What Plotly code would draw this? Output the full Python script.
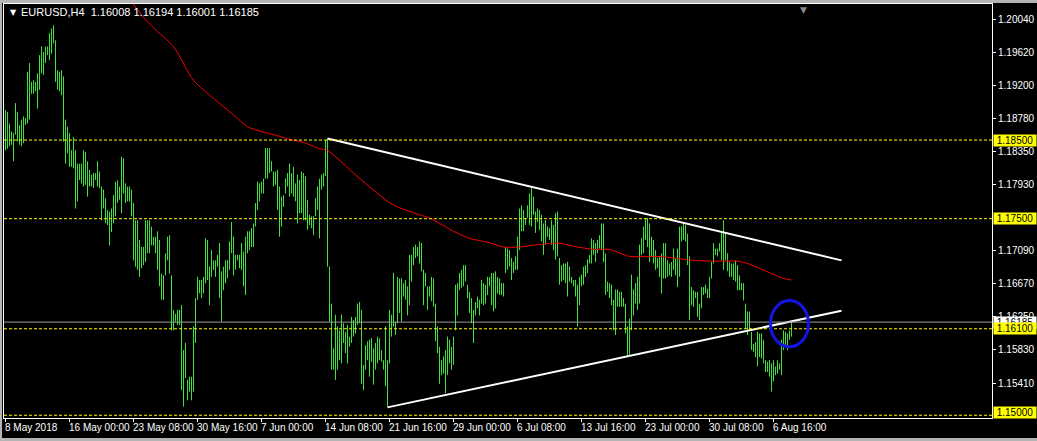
import plotly.graph_objects as go

# ---------------- data ----------------
highs = [
    1.1888, 1.1886, 1.1871, 1.1861, 1.1859, 1.1897, 1.1886, 1.1869, 1.1876, 1.1880,
    1.1878, 1.1937, 1.1948, 1.1924, 1.1926, 1.1924, 1.1935, 1.1958, 1.1969, 1.1962,
    1.1969, 1.1969, 1.1986, 1.1992, 1.1996, 1.1977, 1.1939, 1.1937, 1.1939, 1.1931,
    1.1876, 1.1867, 1.1859, 1.1837, 1.1854, 1.1837, 1.1820, 1.1820, 1.1820, 1.1837,
    1.1835, 1.1823, 1.1812, 1.1806, 1.1808, 1.1808, 1.1823, 1.1810, 1.1791, 1.1787,
    1.1776, 1.1761, 1.1759, 1.1763, 1.1780, 1.1797, 1.1799, 1.1791, 1.1829, 1.1827,
    1.1795, 1.1791, 1.1791, 1.1787, 1.1770, 1.1748, 1.1748, 1.1723, 1.1714, 1.1714,
    1.1748, 1.1748, 1.1748, 1.1740, 1.1727, 1.1727, 1.1734, 1.1723, 1.1680, 1.1678,
    1.1706, 1.1727, 1.1729, 1.1678, 1.1634, 1.1629, 1.1634, 1.1634, 1.1640, 1.1583,
    1.1592, 1.1545, 1.1549, 1.1549, 1.1613, 1.1649, 1.1676, 1.1672, 1.1672, 1.1676,
    1.1725, 1.1723, 1.1689, 1.1710, 1.1697, 1.1697, 1.1704, 1.1719, 1.1683, 1.1689,
    1.1697, 1.1697, 1.1721, 1.1746, 1.1727, 1.1704, 1.1704, 1.1704, 1.1719, 1.1708,
    1.1727, 1.1734, 1.1734, 1.1738, 1.1744, 1.1770, 1.1797, 1.1795, 1.1797, 1.1801,
    1.1840, 1.1840, 1.1840, 1.1823, 1.1810, 1.1810, 1.1812, 1.1791, 1.1778, 1.1780,
    1.1801, 1.1808, 1.1820, 1.1808, 1.1816, 1.1795, 1.1806, 1.1799, 1.1810, 1.1808,
    1.1804, 1.1774, 1.1755, 1.1753, 1.1753, 1.1776, 1.1791, 1.1801, 1.1806, 1.1808,
    1.1850, 1.1852, 1.1689, 1.1642, 1.1585, 1.1628, 1.1613, 1.1608, 1.1628, 1.1617,
    1.1606, 1.1615, 1.1600, 1.1625, 1.1621, 1.1625, 1.1642, 1.1644, 1.1634, 1.1564,
    1.1589, 1.1594, 1.1596, 1.1598, 1.1585, 1.1592, 1.1600, 1.1598, 1.1583, 1.1570,
    1.1613, 1.1570, 1.1634, 1.1628, 1.1681, 1.1619, 1.1676, 1.1674, 1.1674, 1.1668,
    1.1672, 1.1664, 1.1704, 1.1704, 1.1714, 1.1717, 1.1714, 1.1721, 1.1719, 1.1685,
    1.1681, 1.1664, 1.1664, 1.1676, 1.1674, 1.1642, 1.1613, 1.1587, 1.1570, 1.1575,
    1.1583, 1.1600, 1.1596, 1.1587, 1.1600, 1.1666, 1.1668, 1.1681, 1.1685, 1.1691,
    1.1691, 1.1666, 1.1657, 1.1649, 1.1634, 1.1644, 1.1651, 1.1647, 1.1672, 1.1668,
    1.1666, 1.1676, 1.1676, 1.1681, 1.1681, 1.1683, 1.1676, 1.1674, 1.1668, 1.1668,
    1.1714, 1.1712, 1.1710, 1.1700, 1.1695, 1.1702, 1.1727, 1.1763, 1.1767, 1.1761,
    1.1751, 1.1767, 1.1782, 1.1789, 1.1778, 1.1759, 1.1763, 1.1761, 1.1755, 1.1744,
    1.1748, 1.1740, 1.1738, 1.1748, 1.1742, 1.1757, 1.1759, 1.1700, 1.1691, 1.1693,
    1.1693, 1.1695, 1.1689, 1.1676, 1.1672, 1.1672, 1.1666, 1.1676, 1.1679, 1.1689,
    1.1691, 1.1698, 1.1704, 1.1725, 1.1723, 1.1719, 1.1723, 1.1729, 1.1744, 1.1744,
    1.1706, 1.1670, 1.1668, 1.1666, 1.1647, 1.1660, 1.1660, 1.1657, 1.1657, 1.1649,
    1.1642, 1.1613, 1.1623, 1.1679, 1.1660, 1.1668, 1.1676, 1.1717,
    1.1725, 1.1740, 1.1751, 1.1751, 1.1744, 1.1727, 1.1723, 1.1710, 1.1700, 1.1702,
    1.1706, 1.1719, 1.1719, 1.1697, 1.1693, 1.1695, 1.1712, 1.1700, 1.1712, 1.1740,
    1.1740, 1.1744, 1.1742, 1.1731, 1.1702, 1.1663, 1.1659, 1.1657, 1.1657, 1.1642,
    1.1663, 1.1663, 1.1666, 1.1661, 1.1676, 1.1695, 1.1719, 1.1712, 1.1712, 1.1719,
    1.1734, 1.1748, 1.1731, 1.1706, 1.1695, 1.1693, 1.1693, 1.1697, 1.1691, 1.1678,
    1.1668, 1.1668, 1.1642, 1.1632, 1.1632, 1.1606, 1.1591, 1.1593, 1.1606, 1.1604,
    1.1604, 1.1596, 1.1570, 1.1568, 1.1570, 1.1566, 1.1570, 1.1562, 1.1570, 1.1566,
    1.1596, 1.1608, 1.1606, 1.1604, 1.1608, 1.1619,
]
lows = [
    1.1837, 1.1839, 1.1842, 1.1844, 1.1823, 1.1857, 1.1848, 1.1844, 1.1842, 1.1846,
    1.1869, 1.1871, 1.1876, 1.1909, 1.1909, 1.1912, 1.1890, 1.1914, 1.1935, 1.1933,
    1.1948, 1.1958, 1.1952, 1.1960, 1.1973, 1.1924, 1.1914, 1.1912, 1.1907, 1.1848,
    1.1820, 1.1833, 1.1816, 1.1816, 1.1814, 1.1763, 1.1772, 1.1799, 1.1795, 1.1791,
    1.1793, 1.1778, 1.1791, 1.1791, 1.1789, 1.1799, 1.1791, 1.1789, 1.1748, 1.1763,
    1.1744, 1.1742, 1.1716, 1.1733, 1.1744, 1.1753, 1.1770, 1.1774, 1.1757, 1.1782,
    1.1770, 1.1772, 1.1772, 1.1753, 1.1697, 1.1689, 1.1685, 1.1676, 1.1687, 1.1691,
    1.1695, 1.1706, 1.1706, 1.1716, 1.1716, 1.1706, 1.1685, 1.1664, 1.1647, 1.1647,
    1.1678, 1.1697, 1.1680, 1.1608, 1.1608, 1.1619, 1.1615, 1.1615, 1.1532, 1.1511,
    1.1547, 1.1519, 1.1530, 1.1519, 1.1530, 1.1592, 1.1647, 1.1655, 1.1649, 1.1655,
    1.1668, 1.1672, 1.1640, 1.1676, 1.1685, 1.1676, 1.1689, 1.1649, 1.1619, 1.1659,
    1.1668, 1.1674, 1.1685, 1.1706, 1.1678, 1.1685, 1.1697, 1.1687, 1.1685, 1.1664,
    1.1653, 1.1706, 1.1710, 1.1714, 1.1714, 1.1740, 1.1761, 1.1772, 1.1782, 1.1782,
    1.1801, 1.1801, 1.1808, 1.1810, 1.1791, 1.1793, 1.1761, 1.1727, 1.1740, 1.1765,
    1.1782, 1.1791, 1.1778, 1.1782, 1.1778, 1.1772, 1.1744, 1.1757, 1.1757, 1.1748,
    1.1748, 1.1736, 1.1742, 1.1738, 1.1729, 1.1753, 1.1761, 1.1725, 1.1787, 1.1791,
    1.1804, 1.1689, 1.1619, 1.1558, 1.1558, 1.1545, 1.1558, 1.1570, 1.1566, 1.1592,
    1.1579, 1.1566, 1.1587, 1.1592, 1.1600, 1.1604, 1.1615, 1.1617, 1.1540, 1.1532,
    1.1558, 1.1570, 1.1549, 1.1568, 1.1539, 1.1558, 1.1566, 1.1570, 1.1568, 1.1558,
    1.1537, 1.1511, 1.1566, 1.1600, 1.1613, 1.1602, 1.1617, 1.1630, 1.1619, 1.1651,
    1.1647, 1.1627, 1.1640, 1.1670, 1.1691, 1.1700, 1.1702, 1.1693, 1.1683, 1.1640,
    1.1664, 1.1634, 1.1651, 1.1645, 1.1638, 1.1594, 1.1579, 1.1540, 1.1551, 1.1553,
    1.1528, 1.1551, 1.1566, 1.1558, 1.1564, 1.1608, 1.1627, 1.1659, 1.1662, 1.1664,
    1.1670, 1.1649, 1.1630, 1.1617, 1.1592, 1.1627, 1.1636, 1.1627, 1.1642, 1.1640,
    1.1642, 1.1653, 1.1664, 1.1640, 1.1632, 1.1636, 1.1655, 1.1653, 1.1653, 1.1651,
    1.1681, 1.1685, 1.1689, 1.1672, 1.1681, 1.1685, 1.1685, 1.1710, 1.1734, 1.1734,
    1.1742, 1.1751, 1.1742, 1.1740, 1.1755, 1.1732, 1.1746, 1.1736, 1.1721, 1.1704,
    1.1717, 1.1727, 1.1723, 1.1717, 1.1710, 1.1698, 1.1702, 1.1666, 1.1670, 1.1672,
    1.1668, 1.1651, 1.1670, 1.1668, 1.1664, 1.1651, 1.1613, 1.1640, 1.1664, 1.1666,
    1.1676, 1.1681, 1.1693, 1.1693, 1.1704, 1.1695, 1.1706, 1.1712, 1.1710, 1.1695,
    1.1653, 1.1657, 1.1649, 1.1640, 1.1608, 1.1602, 1.1638, 1.1638, 1.1638, 1.1638,
    1.1604, 1.1575, 1.1577, 1.1608, 1.1627, 1.1642, 1.1634, 1.1642,
    1.1704, 1.1706, 1.1723, 1.1714, 1.1695, 1.1702, 1.1693, 1.1685, 1.1687, 1.1676,
    1.1655, 1.1674, 1.1674, 1.1676, 1.1678, 1.1676, 1.1685, 1.1678, 1.1663, 1.1676,
    1.1721, 1.1723, 1.1721, 1.1691, 1.1621, 1.1640, 1.1638, 1.1649, 1.1625, 1.1621,
    1.1636, 1.1653, 1.1655, 1.1649, 1.1649, 1.1674, 1.1693, 1.1704, 1.1702, 1.1708,
    1.1697, 1.1685, 1.1697, 1.1683, 1.1676, 1.1676, 1.1672, 1.1670, 1.1659, 1.1659,
    1.1659, 1.1646, 1.1610, 1.1602, 1.1608, 1.1583, 1.1581, 1.1574, 1.1562, 1.1574,
    1.1572, 1.1566, 1.1555, 1.1555, 1.1549, 1.1530, 1.1543, 1.1551, 1.1553, 1.1558,
    1.1551, 1.1583, 1.1589, 1.1583, 1.1596, 1.1600,
]

# moving average (read at selected bars)
ma_idx = [63, 70, 76, 84, 94, 104, 114, 121, 129, 134, 142, 149, 157, 161, 174,
          191, 196, 207, 212, 224, 232, 241, 249, 257, 266, 276, 286, 294, 302,
          312, 327, 334, 344, 356, 366, 371, 377, 384, 389, 393]
ma_val = [1.2026, 1.2003, 1.1988, 1.1969, 1.1926, 1.1903, 1.1882, 1.1867, 1.1860,
          1.1857, 1.1851, 1.1847, 1.1839, 1.1837, 1.1808, 1.1772, 1.1765, 1.1755,
          1.1751, 1.1734, 1.1725, 1.1720, 1.1714, 1.1714, 1.1717, 1.1719, 1.1714,
          1.1711, 1.1711, 1.1702, 1.1702, 1.1700, 1.1697, 1.1696, 1.1696, 1.1693,
          1.1687, 1.1679, 1.1674, 1.1672]

time_tick_idx = [0, 32, 64, 96, 128, 160, 192, 224, 256, 288, 320, 352, 384]
time_tick_lbl = ["8 May 2018", "16 May 00:00", "23 May 08:00", "30 May 16:00",
                 "7 Jun 00:00", "14 Jun 08:00", "21 Jun 16:00", "29 Jun 00:00",
                 "6 Jul 08:00", "13 Jul 16:00", "23 Jul 00:00", "30 Jul 08:00",
                 "6 Aug 16:00"]
price_ticks = [1.2004, 1.1962, 1.1920, 1.1878, 1.1835, 1.1793, 1.1709, 1.1667,
               1.1625, 1.1583, 1.1541]

levels = [1.1850, 1.1750, 1.1610, 1.1500]
last_price = 1.16185
upper_idx = [161, 418]
upper_val = [1.1852, 1.1697]
lower_idx = [191, 418]
lower_val = [1.1510, 1.1633]
circle_idx = [382.5, 401.5]
circle_val = [1.1587, 1.1646]
header_text = "EURUSD,H4  1.16008 1.16194 1.16001 1.16185"

# ---------------- figure ----------------
FONT = "Liberation Sans, Arial, sans-serif"
BAR_COLOR = "#3be33b"

bx, by = [], []
for i, (h, l) in enumerate(zip(highs, lows)):
    bx += [i, i, None]
    by += [l, h, None]

fig = go.Figure()
fig.add_trace(go.Scatter(x=bx, y=by, mode="lines",
                         line=dict(color=BAR_COLOR, width=1),
                         hoverinfo="skip", showlegend=False))
fig.add_trace(go.Scatter(x=ma_idx, y=ma_val, mode="lines",
                         line=dict(color="#ff0000", width=1, shape="spline", smoothing=0.6),
                         hoverinfo="skip", showlegend=False))

# horizontal levels
for lv in levels:
    fig.add_shape(type="line", xref="paper", x0=0, x1=1, yref="y", y0=lv, y1=lv,
                  line=dict(color="#ffff00", width=1, dash="3px,2px"))
fig.add_shape(type="line", xref="paper", x0=0, x1=1, yref="y",
              y0=last_price, y1=last_price, line=dict(color="#9a9a9a", width=1))

fig.add_trace(go.Scatter(x=upper_idx, y=upper_val, mode="lines",
                         line=dict(color="#ffffff", width=2),
                         hoverinfo="skip", showlegend=False))
fig.add_trace(go.Scatter(x=lower_idx, y=lower_val, mode="lines",
                         line=dict(color="#ffffff", width=2),
                         hoverinfo="skip", showlegend=False))

fig.add_shape(type="circle", xref="x", yref="y",
              x0=circle_idx[0], x1=circle_idx[1], y0=circle_val[0], y1=circle_val[1],
              line=dict(color="#1414e6", width=3))

# window frame (grey bands: top, left, bottom)
for (x0, x1, y0, y1) in [(-0.01, 1.06, 1.0025, 1.02), (-0.01, -0.002, -0.07, 1.02),
                         (-0.01, 1.06, -0.07, -0.0485)]:
    fig.add_shape(type="rect", xref="paper", yref="paper", x0=x0, x1=x1, y0=y0, y1=y1,
                  line=dict(width=0), fillcolor="#b4b4b4", layer="above")

# header
fig.add_annotation(xref="paper", yref="paper", x=0, y=1, xanchor="left", yanchor="middle",
                   xshift=4, yshift=-8, text="▼", showarrow=False,
                   font=dict(color="white", size=8, family="DejaVu Sans"))
fig.add_annotation(xref="paper", yref="paper", x=0, y=1, xanchor="left", yanchor="middle",
                   xshift=15, yshift=-8, text=header_text, showarrow=False,
                   font=dict(color="white", size=11, family=FONT))
# chart-shift marker
fig.add_annotation(xref="x", yref="paper", x=399, y=1, xanchor="center", yanchor="top",
                   yshift=1, text="▼", showarrow=False,
                   font=dict(color="#8a8a8a", size=9, family="DejaVu Sans"))

# time labels
for idx, lbl in zip(time_tick_idx, time_tick_lbl):
    fig.add_annotation(xref="x", yref="paper", x=idx, y=0, xanchor="left", yanchor="top",
                       xshift=-3, yshift=-2, text=lbl, showarrow=False,
                       font=dict(color="white", size=10, family=FONT))

# price labels
def price_label(val, bg, shift=0):
    fig.add_annotation(xref="paper", yref="y", x=1, y=val, xanchor="left",
                       yanchor="middle", xshift=1, yshift=shift,
                       text=f"{val:.5f}", showarrow=False, bgcolor=bg,
                       width=42, height=11, align="center", borderpad=0,
                       font=dict(color="black", size=10, family=FONT))

price_label(last_price, "#ffffff")
for lv in levels:
    price_label(lv, "#ffff00", 3 if lv == min(levels) else 0)

fig.update_layout(
    width=1037, height=441,
    margin=dict(l=4, r=45, t=4, b=23, autoexpand=False),
    paper_bgcolor="black", plot_bgcolor="black",
    showlegend=False,
    xaxis=dict(range=[-0.75, 493.25], showgrid=False, zeroline=False,
               showline=True, mirror=True, linecolor="white", linewidth=1,
               ticks="outside", ticklen=3, tickcolor="white", automargin=False,
               tickvals=time_tick_idx, showticklabels=False),
    yaxis=dict(range=[1.149649, 1.202308], side="right", showgrid=False,
               zeroline=False, showline=True, mirror=True, linecolor="white",
               linewidth=1, ticks="outside", ticklen=3, tickcolor="white",
               automargin=False,
               tickvals=price_ticks, tickformat=".5f",
               tickfont=dict(color="white", size=10, family=FONT)),
)

fig.write_html("out.html", config={"displayModeBar": False},
               post_script="document.body.style.margin='0';document.body.style.overflow='hidden';")
